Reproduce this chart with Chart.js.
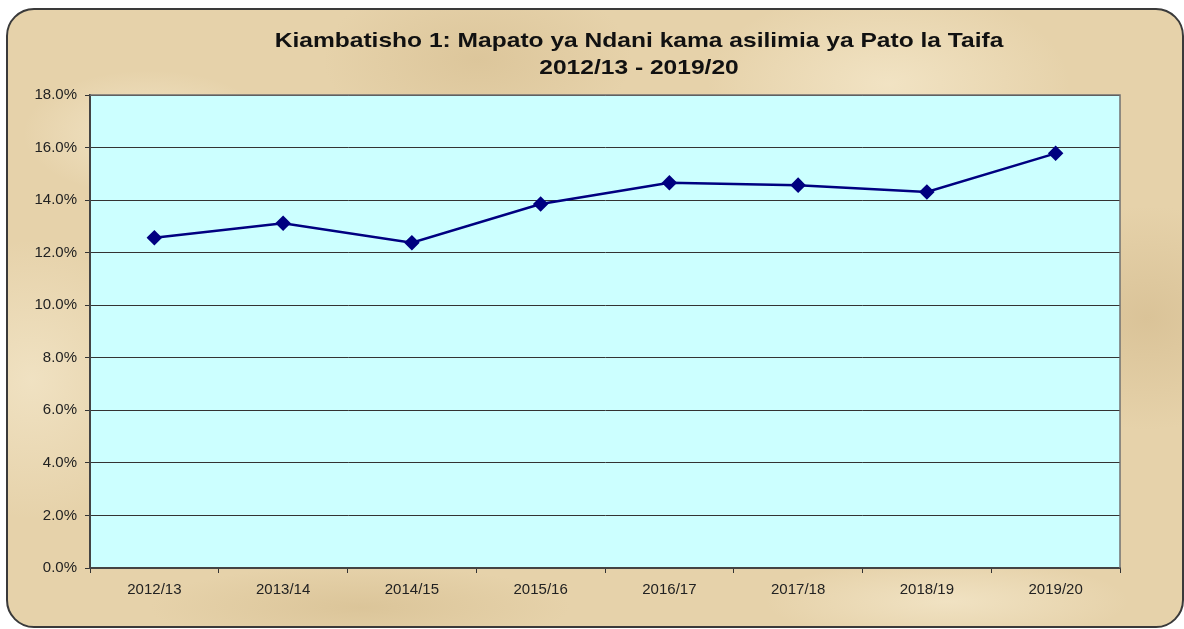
<!DOCTYPE html>
<html>
<head>
<meta charset="utf-8">
<script src="https://cdn.jsdelivr.net/npm/chart.js@4.4.1/dist/chart.umd.min.js"></script>
<style>
    html, body { margin: 0; padding: 0; background: #ffffff; }
    body { width: 1184px; height: 629px; position: relative; overflow: hidden; }
    .frame {
        position: absolute; left: 6px; top: 8px; width: 1174px; height: 616px;
        border: 2px solid #3a3a3a; border-radius: 28px;
        background-color: #e6d2aa;
        background-image:
            radial-gradient(ellipse 180px 90px at 12% 20%, rgba(247,236,210,0.7), rgba(247,236,210,0) 70%),
            radial-gradient(ellipse 220px 120px at 40% 8%, rgba(214,190,145,0.6), rgba(214,190,145,0) 70%),
            radial-gradient(ellipse 260px 140px at 75% 12%, rgba(246,234,206,0.7), rgba(246,234,206,0) 70%),
            radial-gradient(ellipse 200px 160px at 97% 50%, rgba(210,185,140,0.6), rgba(210,185,140,0) 70%),
            radial-gradient(ellipse 180px 200px at 2% 60%, rgba(244,232,204,0.7), rgba(244,232,204,0) 70%),
            radial-gradient(ellipse 300px 60px at 30% 97%, rgba(212,188,142,0.6), rgba(212,188,142,0) 70%),
            radial-gradient(ellipse 260px 60px at 80% 96%, rgba(245,233,205,0.7), rgba(245,233,205,0) 70%);
    }
    #wrap { position: absolute; left: 0; top: 0; width: 1184px; height: 629px; }
</style>
</head>
<body>
<div class="frame"></div>
<div id="wrap"><canvas id="revenueChart"></canvas></div>
<script>
// --- Chart data ---
const years = ['2012/13', '2013/14', '2014/15', '2015/16', '2016/17', '2017/18', '2018/19', '2019/20'];
const revenueShare = [12.57, 13.12, 12.38, 13.85, 14.66, 14.57, 14.31, 15.78];
const titleLines = ['Kiambatisho 1: Mapato ya Ndani kama asilimia ya Pato la Taifa', '2012/13 - 2019/20'];
const yMin = 0, yMax = 18, yStep = 2;

// paints the cyan plot area, its frame and the two title lines
const plotBackground = {
    id: 'plotBackground',
    beforeDraw(chart) {
        const { ctx, chartArea: a } = chart;
        ctx.save();
        ctx.fillStyle = '#ccffff';
        ctx.fillRect(a.left, a.top, a.right - a.left, a.bottom - a.top);
        ctx.restore();
    },
    afterDraw(chart) {
        const { ctx, chartArea: a } = chart;
        ctx.save();
        ctx.strokeStyle = '#707070';
        ctx.lineWidth = 1.5;
        ctx.beginPath();
        ctx.moveTo(a.left, a.top);
        ctx.lineTo(a.right, a.top);
        ctx.lineTo(a.right, a.bottom);
        ctx.stroke();
        // title is a bit wider than the font, as in the original
        ctx.fillStyle = '#111111';
        ctx.font = 'bold 21px "Liberation Sans", Arial, sans-serif';
        ctx.textAlign = 'center';
        ctx.textBaseline = 'alphabetic';
        ctx.translate(639, 0);
        ctx.scale(1.17, 1);
        ctx.fillText(titleLines[0], 0, 47);
        ctx.fillText(titleLines[1], 0, 74);
        ctx.restore();
    }
};

const ctx = document.getElementById('revenueChart').getContext('2d');
const revenueChart = new Chart(ctx, {
    type: 'line',
    data: {
        labels: years,
        datasets: [{
            label: 'Mapato ya Ndani / Pato la Taifa',
            data: revenueShare,
            borderColor: '#000080',
            borderWidth: 2.5,
            pointStyle: 'rectRot',
            pointRadius: 6,
            pointBackgroundColor: '#000080',
            pointBorderColor: '#000080',
            tension: 0,
            fill: false
        }]
    },
    options: {
        responsive: true,
        maintainAspectRatio: false,
        animation: false,
        layout: { padding: { left: 30, right: 64, top: 95, bottom: 21 } },
        plugins: {
            legend: { display: false },
            tooltip: { enabled: false },
            title: { display: false }
        },
        scales: {
            x: {
                offset: true,
                grid: { offset: true, drawOnChartArea: false, drawTicks: true, tickLength: 5, color: '#333333' },
                border: { color: '#444444', width: 2 },
                ticks: {
                    color: '#222222',
                    padding: 8,
                    maxRotation: 0,
                    font: { family: '"Liberation Sans", Arial, sans-serif', size: 15 }
                },
                afterFit(scale) { scale.height = 40; }
            },
            y: {
                min: yMin,
                max: yMax,
                grid: { color: '#333333', lineWidth: 1, tickLength: 5 },
                border: { color: '#444444', width: 2 },
                ticks: {
                    stepSize: yStep,
                    color: '#222222',
                    padding: 8,
                    font: { family: '"Liberation Sans", Arial, sans-serif', size: 15 },
                    callback: function (v) { return v.toFixed(1) + '%'; }
                },
                afterFit(scale) { scale.width = 60; }
            }
        }
    },
    plugins: [plotBackground]
});
</script>
</body>
</html>
